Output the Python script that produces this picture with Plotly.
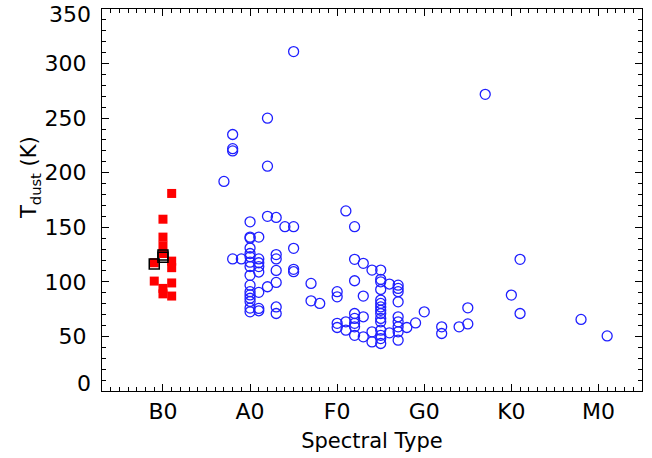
import plotly.graph_objects as go

# Spectral type index: B0=10, A0=20, F0=30, G0=40, K0=50, M0=60
tick_vals = [10, 20, 30, 40, 50, 60]
tick_text = ["B0", "A0", "F0", "G0", "K0", "M0"]
y_tick_vals = [0, 50, 100, 150, 200, 250, 300, 350]
y_tick_text = ["0", "50", "100", "150", "200", "250", "300", "350"]

# Blue open circles
circ_x = ([17] + [18] * 4 + [19]
          + [20] * 16 + [21] * 8 + [22] * 4 + [23] * 7 + [24] + [25] * 5
          + [27] * 2 + [28]
          + [30] * 4 + [31] * 3 + [32] * 8 + [33] * 4 + [34] * 3 + [35] * 15
          + [36] * 2 + [37] * 9 + [38] + [39]
          + [40] + [42] * 2 + [44] + [45] * 2 + [47]
          + [50] + [51] * 2 + [58] + [61])
circ_y = ([192]
          + [235, 222, 220, 121]
          + [121]
          + [155, 141, 140, 131, 126, 123, 118, 114, 106, 97, 91, 88, 85, 82, 76, 72.5]
          + [141, 121, 117.5, 114, 109, 90.4, 75.7, 73.5]
          + [250, 206, 160, 95.5]
          + [159, 125, 121, 110.5, 99.5, 77, 71]
          + [150.6]
          + [311, 150.6, 130.7, 111.5, 109.3]
          + [98.6, 82.6]
          + [80.2]
          + [91, 86.3, 62, 58.2]
          + [165, 63.4, 55.7]
          + [150.6, 120.6, 101, 71, 66.5, 62, 58.8, 51]
          + [117, 87, 68, 49.6]
          + [110.8, 54.2, 45]
          + [110.8, 102.3, 100, 93, 83.3, 80.2, 77, 74, 71, 66.5, 63.4, 55.7, 51, 48, 43.5]
          + [98, 53.3]
          + [97, 94, 91, 81.7, 68, 63.4, 58.8, 54.2, 46.6]
          + [58.2]
          + [62.4]
          + [72.5]
          + [58.8, 52.7]
          + [58.8]
          + [76.2, 61.5]
          + [271.8]
          + [87.9]
          + [120.6, 71]
          + [65.6]
          + [50.5])

# Red filled squares
red_x = [9, 9, 10, 10, 10, 10, 10, 10, 11, 11, 11, 11, 11]
red_y = [117.5, 100.7, 157.4, 141, 133, 126, 94, 89, 181, 119, 113, 99, 87]

# Black open squares
blk_x = [9, 10, 10]
blk_y = [116.3, 124.5, 122.5]

fig = go.Figure()
fig.add_trace(go.Scatter(
    x=circ_x, y=circ_y, mode="markers",
    marker=dict(symbol="circle-open", size=10, color="#1f1fff",
                line=dict(width=1.3, color="#1f1fff")),
    showlegend=False))
fig.add_trace(go.Scatter(
    x=red_x, y=red_y, mode="markers",
    marker=dict(symbol="square", size=9, color="#ff0000", line=dict(width=0)),
    showlegend=False))
fig.add_trace(go.Scatter(
    x=blk_x, y=blk_y, mode="markers",
    marker=dict(symbol="square-open", size=10, color="black",
                line=dict(width=1.5, color="black")),
    showlegend=False))

font = dict(family="DejaVu Sans", size=21, color="black")
tfont = dict(family="DejaVu Sans", size=22, color="black")

# Inner y labels come from the axis; the two end labels are nudged inward
# (as in the original) and drawn as text at the axis' own end values.
inner_vals = y_tick_vals[1:-1]
inner_text = y_tick_text[1:-1]
end_labels = [
    dict(text=y_tick_text[0], x=0, xref="paper", y=y_tick_vals[0], yref="y",
         xanchor="right", yanchor="middle", xshift=-9, yshift=8,
         showarrow=False, font=tfont),
    dict(text=y_tick_text[-1], x=0, xref="paper", y=y_tick_vals[-1], yref="y",
         xanchor="right", yanchor="middle", xshift=-9, yshift=-5,
         showarrow=False, font=tfont),
]

fig.update_layout(
    width=652, height=458,
    margin=dict(l=102, r=10, t=9, b=67, autoexpand=False),
    paper_bgcolor="white", plot_bgcolor="white",
    font=font,
    xaxis=dict(
        range=[3, 65], tickmode="array", tickvals=tick_vals, ticktext=tick_text,
        showline=True, linecolor="black", linewidth=1.3, mirror="ticks",
        ticks="inside", ticklen=7, tickwidth=1.3, tickcolor="black",
        minor=dict(ticks="inside", ticklen=3.5, tickwidth=1.1, tickcolor="black",
                   tickmode="linear", tick0=0, dtick=1, showgrid=False),
        showgrid=False, zeroline=False, tickfont=tfont, automargin=False,
        ticklabeloverflow="allow",
        title=dict(text="Spectral Type", font=font, standoff=10),
    ),
    yaxis=dict(
        range=[0, 350], tickmode="array", tickvals=inner_vals, ticktext=inner_text,
        showline=True, linecolor="black", linewidth=1.3, mirror="ticks",
        ticks="inside", ticklen=7, tickwidth=1.3, tickcolor="black",
        minor=dict(ticks="inside", ticklen=3.5, tickwidth=1.1, tickcolor="black",
                   tickmode="linear", tick0=0, dtick=10, showgrid=False),
        showgrid=False, zeroline=False, tickfont=tfont, automargin=False,
        ticklabeloverflow="allow", ticklabelstandoff=10,
    ),
    annotations=[dict(
        text="T<sub>dust</sub> (K)", textangle=-90, showarrow=False,
        xref="paper", yref="paper", x=-0.133, y=0.558,
        xanchor="center", yanchor="middle", font=font)] + end_labels,
)

fig.write_html("out.html")
